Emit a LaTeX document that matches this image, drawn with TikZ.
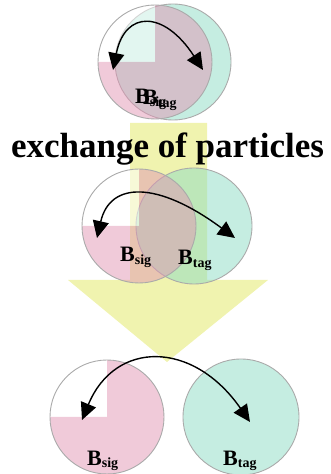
\documentclass[tikz,border=0pt]{standalone}
\usepackage{fontspec}
\setmainfont{Liberation Serif}
\usetikzlibrary{arrows.meta}
\definecolor{PK}{RGB}{225,150,180}
\definecolor{TL}{RGB}{140,220,195}
\definecolor{YL}{RGB}{240,243,175}
\definecolor{RG}{RGB}{170,170,170}
\newcommand{\Bsub}[1]{B\raisebox{-2.5pt}{\fontsize{14}{14}\selectfont #1}}

\begin{document}
\begin{tikzpicture}[x=1pt, y=1pt,
  tagball/.style={circle, draw=RG, line width=0.9pt, fill=TL, fill opacity=0.5,
                  minimum size=116pt, inner sep=0},
  ring/.style={draw=RG, line width=0.9pt},
  xchg/.style={{Triangle[length=17pt,width=16pt]}-{Triangle[length=17pt,width=16pt]},
               line width=1.4pt, draw=black},
  lbl/.style={font=\fontsize{22}{22}\selectfont\bfseries, inner sep=0, anchor=base west},
  headline/.style={font=\fontsize{35}{35}\selectfont\bfseries, inner sep=0, anchor=base}
]
\useasboundingbox (0,0) rectangle (331,474);

% big yellow arrow behind everything
\fill[YL] (130,351) -- (207,351) -- (207,194) -- (268,194) -- (167,112)
          -- (68,194) -- (130,194) -- cycle;

% centres
\coordinate (sigT) at (155,412);
\coordinate (sigM) at (139,248);
\coordinate (sigB) at (107,57);

% B_tag balls (under)
\node[tagball] (tagT) at (173,412) {};
\node[tagball] (tagM) at (194,248) {};
\node[tagball] (tagB) at (241,57) {};

% B_sig balls: white quarter + pink rest
\foreach \c in {sigT,sigM,sigB}{
  \fill[white, fill opacity=0.5] (\c) -- ++(-57,0) arc[start angle=180, end angle=90, radius=57] -- cycle;
  \fill[PK, fill opacity=0.5] (\c) -- ++(0,57) arc[start angle=90, end angle=-180, radius=57] -- cycle;
  \draw[ring] (\c) circle[radius=57];
}

% exchange arrows
\coordinate (aT1) at (113,404);
\coordinate (aT2) at (203,404);
\coordinate (aM1) at (97,236);
\coordinate (aM2) at (235,236);
\coordinate (aB1) at (82,54);
\coordinate (aB2) at (250,52);
\draw[xchg] (aT1) .. controls (125,464) and (164,464) .. (aT2);
\draw[xchg] (aM1) .. controls (110,293) and (158,293) .. (aM2);
\draw[xchg] (aB1) .. controls (115,134) and (193,134) .. (aB2);

% labels
\node[lbl] (lsT) at (135,370) {\Bsub{sig}};
\node[lbl] (ltT) at (143,369) {\Bsub{tag}};
\node[lbl] (lsM) at (120,212) {\Bsub{sig}};
\node[lbl] (ltM) at (178,209) {\Bsub{tag}};
\node[lbl] (lsB) at (87,9) {\Bsub{sig}};
\node[lbl] (ltB) at (223,9) {\Bsub{tag}};

\node[headline] (xtxt) at (167.5,316) {exchange of particles};
\end{tikzpicture}
\end{document}
